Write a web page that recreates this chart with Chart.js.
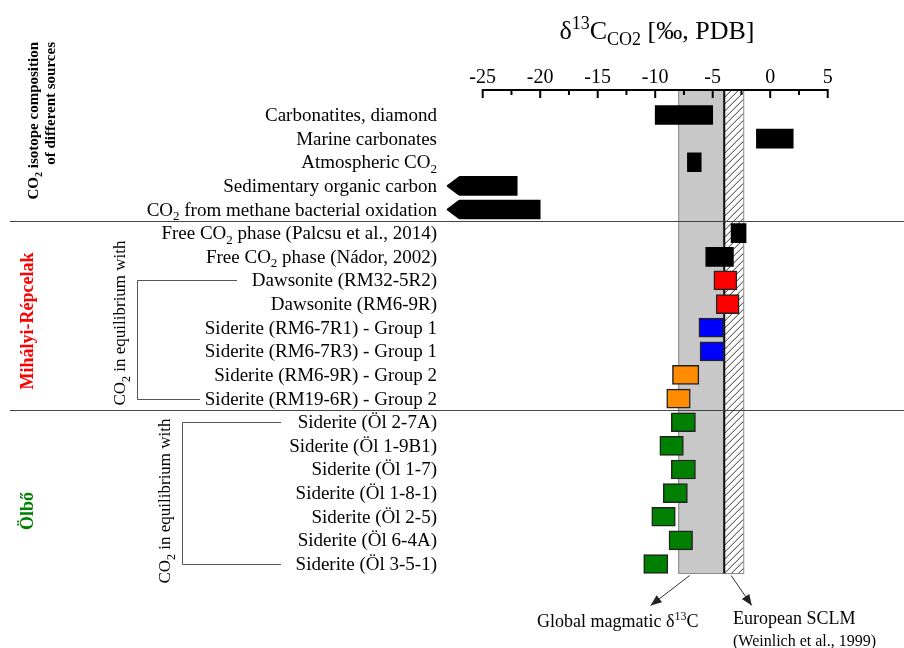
<!DOCTYPE html>
<html>
<head>
<meta charset="utf-8">
<script src="https://cdn.jsdelivr.net/npm/chart.js@4.4.0/dist/chart.umd.min.js"></script>
<style>
  html, body { margin: 0; padding: 0; background: #fff; }
  #wrap { width: 904px; height: 648px; position: relative; }
</style>
</head>
<body>
<div id="wrap"><canvas id="myChart"></canvas></div>
<script>
// ---- data (per mil, PDB) ----
var categories = [
  'Carbonatites, diamond', 'Marine carbonates', 'Atmospheric CO₂',
  'Sedimentary organic carbon', 'CO₂ from methane bacterial oxidation',
  'Free CO₂ phase (Palcsu et al., 2014)', 'Free CO₂ phase (Nádor, 2002)',
  'Dawsonite (RM32-5R2)', 'Dawsonite (RM6-9R)',
  'Siderite (RM6-7R1) - Group 1', 'Siderite (RM6-7R3) - Group 1',
  'Siderite (RM6-9R) - Group 2', 'Siderite (RM19-6R) - Group 2',
  'Siderite (Öl 2-7A)', 'Siderite (Öl 1-9B1)', 'Siderite (Öl 1-7)',
  'Siderite (Öl 1-8-1)', 'Siderite (Öl 2-5)', 'Siderite (Öl 6-4A)', 'Siderite (Öl 3-5-1)'
];
var lowValues  = [-10, -1.2, -7.2, -28.1, -28.1, -3.4, -5.6, -4.9, -4.7, -6.2, -6.1, -8.5, -9.0,
                  -8.6, -9.6, -8.6, -9.3, -10.3, -8.8, -11.0];
var highValues = [-5, 2, -6, -22, -20, -2.1, -3.2, -2.9, -2.7, -4.05, -4.0, -6.2, -6.95,
                  -6.5, -7.55, -6.5, -7.2, -8.25, -6.75, -8.9];
var groups = ['source', 'source', 'source', 'source', 'source', 'free', 'free',
              'dawsonite', 'dawsonite', 'siderite1', 'siderite1', 'siderite2', 'siderite2',
              'olbo', 'olbo', 'olbo', 'olbo', 'olbo', 'olbo', 'olbo'];
var openEnded = [false, false, false, true, true, false, false, false, false, false,
                 false, false, false, false, false, false, false, false, false, false];
var xTicks = [-25, -20, -15, -10, -5, 0, 5];
var magmaticRange = [-8, -4];
var sclmRange = [-4, -2.3];

var groupColors = {
  source: '#000000', free: '#000000', dawsonite: '#ff0000',
  siderite1: '#0000ff', siderite2: '#ff8c00', olbo: '#008000'
};

function serif(size, bold) {
  return (bold ? 'bold ' : '') + size + 'px "Liberation Serif", "Times New Roman", serif';
}

// turns unicode sub/superscript digits into drawable pieces
function parseRich(str) {
  var subs = '₀₁₂₃₄₅₆₇₈₉', sups = '⁰¹²³⁴⁵⁶⁷⁸⁹';
  var out = [], cur = null;
  for (var ch of str) {
    var t = 'n', c = ch, k;
    if ((k = subs.indexOf(ch)) >= 0) { t = 'sub'; c = String(k); }
    else if ((k = sups.indexOf(ch)) >= 0) { t = 'sup'; c = String(k); }
    if (cur && cur.t === t) cur.s += c; else { cur = {t: t, s: c}; out.push(cur); }
  }
  return out;
}

function drawRich(ctx, parts, x, y, size, bold, align) {
  var segs = typeof parts === 'string' ? parseRich(parts) : parts;
  var w = 0;
  segs.forEach(function (s) {
    ctx.font = serif(s.t === 'n' ? size : Math.round(size * 0.68), bold);
    s.w = ctx.measureText(s.s).width;
    w += s.w;
  });
  var cx = align === 'right' ? x - w : (align === 'center' ? x - w / 2 : x);
  ctx.textAlign = 'left';
  ctx.textBaseline = 'alphabetic';
  segs.forEach(function (s) {
    ctx.font = serif(s.t === 'n' ? size : Math.round(size * 0.68), bold);
    var dy = s.t === 'sub' ? size * 0.24 : (s.t === 'sup' ? -size * 0.38 : 0);
    ctx.fillText(s.s, cx, y + dy);
    cx += s.w;
  });
}

function drawRotated(ctx, text, x, y, size, bold, color, align) {
  ctx.save();
  ctx.translate(x, y);
  ctx.rotate(-Math.PI / 2);
  ctx.fillStyle = color;
  drawRich(ctx, text, 0, size * 0.32, size, bold, align);
  ctx.restore();
}

function arrowLine(ctx, x1, y1, x2, y2) {
  ctx.strokeStyle = '#333';
  ctx.fillStyle = '#222';
  ctx.lineWidth = 1;
  ctx.beginPath(); ctx.moveTo(x1, y1); ctx.lineTo(x2, y2); ctx.stroke();
  var a = Math.atan2(y2 - y1, x2 - x1), L = 11, W = 4.5;
  ctx.beginPath();
  ctx.moveTo(x2, y2);
  ctx.lineTo(x2 - L * Math.cos(a) + W * Math.sin(a), y2 - L * Math.sin(a) - W * Math.cos(a));
  ctx.lineTo(x2 - L * Math.cos(a) - W * Math.sin(a), y2 - L * Math.sin(a) + W * Math.cos(a));
  ctx.closePath(); ctx.fill();
}

var axisY = 90;

var backdrop = {
  id: 'backdrop',
  beforeDatasetsDraw: function (chart) {
    var ctx = chart.ctx, xs = chart.scales.x, ys = chart.scales.y;
    var bottom = ys.getPixelForValue(categories.length - 1) + 9.5;
    var g0 = xs.getPixelForValue(magmaticRange[0]), g1 = xs.getPixelForValue(magmaticRange[1]);
    var h1 = xs.getPixelForValue(sclmRange[1]);
    ctx.save();
    // global magmatic band
    ctx.fillStyle = '#c8c8c8';
    ctx.fillRect(g0, axisY, g1 - g0, bottom - axisY);
    ctx.strokeStyle = '#888';
    ctx.lineWidth = 1;
    ctx.strokeRect(g0 + 0.5, axisY, g1 - g0, bottom - axisY);
    // SCLM hatched band
    ctx.save();
    ctx.beginPath(); ctx.rect(g1, axisY, h1 - g1, bottom - axisY); ctx.clip();
    ctx.strokeStyle = '#333';
    for (var k = -40; k < (bottom - axisY) + 40; k += 7) {
      ctx.beginPath();
      ctx.moveTo(g1, axisY + k + (h1 - g1));
      ctx.lineTo(h1, axisY + k);
      ctx.stroke();
    }
    ctx.restore();
    ctx.strokeStyle = '#888';
    ctx.strokeRect(g1, axisY, h1 - g1, bottom - axisY);
    ctx.strokeStyle = '#111';
    ctx.lineWidth = 2;
    ctx.beginPath(); ctx.moveTo(g1, axisY); ctx.lineTo(g1, bottom); ctx.stroke();
    // section separators
    ctx.strokeStyle = '#444';
    ctx.lineWidth = 1;
    [4, 12].forEach(function (i) {
      var yy = Math.round((ys.getPixelForValue(i) + ys.getPixelForValue(i + 1)) / 2) + 0.5;
      ctx.beginPath(); ctx.moveTo(10, yy); ctx.lineTo(904, yy); ctx.stroke();
    });
    ctx.restore();
  },
  afterDatasetsDraw: function (chart) {
    var ctx = chart.ctx, xs = chart.scales.x, ys = chart.scales.y;
    var meta = chart.getDatasetMeta(0);
    ctx.save();
    // arrow heads on open-ended bars
    ctx.fillStyle = '#fff';
    meta.data.forEach(function (bar, i) {
      if (!openEnded[i]) return;
      var left = Math.min(bar.x, bar.base), top = bar.y - bar.height / 2, bot = bar.y + bar.height / 2;
      ctx.beginPath();
      ctx.moveTo(left - 1, top - 1); ctx.lineTo(left + 13, top - 1); ctx.lineTo(left - 1, bar.y);
      ctx.closePath(); ctx.fill();
      ctx.beginPath();
      ctx.moveTo(left - 1, bot + 1); ctx.lineTo(left + 13, bot + 1); ctx.lineTo(left - 1, bar.y);
      ctx.closePath(); ctx.fill();
    });

    // top axis
    var xa = xs.getPixelForValue(xTicks[0]), xb = xs.getPixelForValue(xTicks[xTicks.length - 1]);
    ctx.strokeStyle = '#000';
    ctx.lineWidth = 2;
    ctx.beginPath(); ctx.moveTo(xa, axisY); ctx.lineTo(xb, axisY); ctx.stroke();
    for (var v = xTicks[0]; v <= xTicks[xTicks.length - 1]; v += 2.5) {
      var px = xs.getPixelForValue(v), major = xTicks.indexOf(v) >= 0;
      ctx.beginPath(); ctx.moveTo(px, axisY - 1); ctx.lineTo(px, axisY + (major ? 8 : 5)); ctx.stroke();
    }
    ctx.fillStyle = '#000';
    xTicks.forEach(function (t) {
      drawRich(ctx, String(t), xs.getPixelForValue(t), 83, 20, false, 'center');
    });

    // title
    drawRich(ctx, [{t: 'n', s: 'δ'}, {t: 'sup', s: '13'}, {t: 'n', s: 'C'}, {t: 'sub', s: 'CO2'},
                   {t: 'n', s: ' [‰, PDB]'}], 657, 39, 26, false, 'center');

    // category labels
    categories.forEach(function (c, i) {
      drawRich(ctx, c, 437, ys.getPixelForValue(i) + 6, 19, false, 'right');
    });

    // side labels
    ctx.save();
    ctx.translate(33, 42); ctx.rotate(-Math.PI / 2); ctx.fillStyle = '#000';
    drawRich(ctx, 'CO₂ isotope composition', 0, 5, 15, true, 'right');
    drawRich(ctx, 'of different sources', 0, 22, 15, true, 'right');
    ctx.restore();
    drawRotated(ctx, 'Mihályi-Répcelak', 27, 321, 18, true, '#ff0000', 'center');
    drawRotated(ctx, 'Ölbő', 27, 511, 18, true, '#008000', 'center');
    drawRotated(ctx, 'CO₂ in equilibrium with', 120, 323, 17, false, '#000', 'center');
    drawRotated(ctx, 'CO₂ in equilibrium with', 165, 501, 17, false, '#000', 'center');

    // brackets
    ctx.strokeStyle = '#555';
    ctx.lineWidth = 1;
    function bracket(x, i0, i1, r0, r1) {
      var y0 = Math.round(ys.getPixelForValue(i0)) + 0.5, y1 = Math.round(ys.getPixelForValue(i1)) + 0.5;
      ctx.beginPath();
      ctx.moveTo(r0, y0); ctx.lineTo(x, y0); ctx.lineTo(x, y1); ctx.lineTo(r1, y1);
      ctx.stroke();
    }
    bracket(137.5, 7, 12, 237, 200);
    bracket(182.5, 13, 19, 281, 281);

    // annotations below the bands
    var bottom = ys.getPixelForValue(categories.length - 1) + 9.5;
    arrowLine(ctx, xs.getPixelForValue(-7), bottom + 2, xs.getPixelForValue(-10.4), bottom + 32);
    arrowLine(ctx, xs.getPixelForValue(-3.4), bottom + 2, xs.getPixelForValue(-1.6), bottom + 32);
    ctx.fillStyle = '#000';
    drawRich(ctx, [{t: 'n', s: 'Global magmatic δ'}, {t: 'sup', s: '13'}, {t: 'n', s: 'C'}],
             537, 627, 18, false, 'left');
    drawRich(ctx, 'European SCLM', 733, 624, 18, false, 'left');
    drawRich(ctx, '(Weinlich et al., 1999)', 733, 646, 16, false, 'left');
    ctx.restore();
  }
};

var ctx = document.getElementById('myChart');
var myChart = new Chart(ctx, {
  type: 'bar',
  data: {
    labels: categories,
    datasets: [{
      data: categories.map(function (c, i) { return [lowValues[i], highValues[i]]; }),
      backgroundColor: groups.map(function (g) { return groupColors[g]; }),
      borderColor: groups.map(function (g) { return groupColors[g] === '#000000' ? '#000' : '#222'; }),
      borderWidth: groups.map(function (g) { return groupColors[g] === '#000000' ? 0 : 1.5; }),
      borderSkipped: false,
      barThickness: 19
    }]
  },
  plugins: [backdrop],
  options: {
    indexAxis: 'y',
    responsive: true,
    maintainAspectRatio: false,
    animation: false,
    layout: { padding: { left: 443.6, right: 76.3, top: 103.2, bottom: 72.2 } },
    scales: {
      x: { type: 'linear', min: -28.4, max: 5, display: false },
      y: { type: 'category', display: false, offset: true }
    },
    plugins: { legend: { display: false }, tooltip: { enabled: false } }
  }
});
</script>
</body>
</html>
